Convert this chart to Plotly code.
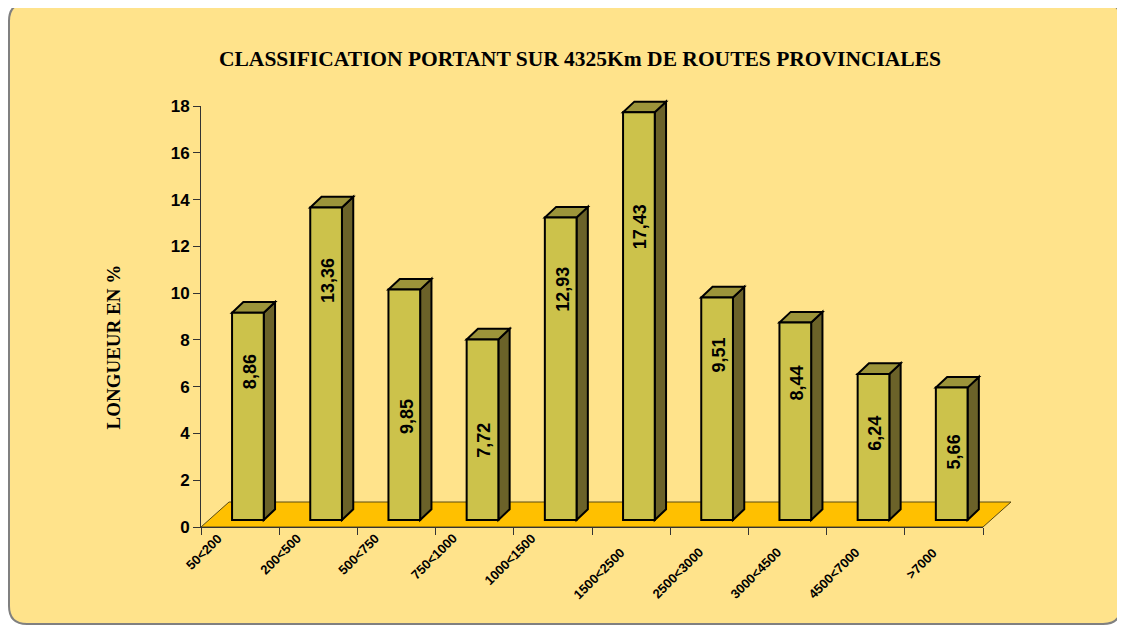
import plotly.graph_objects as go

# ---------------- data ----------------
categories = ["50<200", "200<500", "500<750", "750<1000", "1000<1500",
              "1500<2500", "2500<3000", "3000<4500", "4500<7000", ">7000"]
values = [8.86, 13.36, 9.85, 7.72, 12.93, 17.43, 9.51, 8.44, 6.24, 5.66]
value_labels = ["8,86", "13,36", "9,85", "7,72", "12,93",
                "17,43", "9,51", "8,44", "6,24", "5,66"]
# height (axis units) of the centre of each rotated value label
label_heights = [6.66, 10.52, 4.72, 3.71, 10.17, 12.85, 7.34, 6.15, 4.01, 3.22]
y_ticks = [0, 2, 4, 6, 8, 10, 12, 14, 16, 18]
# category labels are drawn in two staggered rows (0 = upper, 1 = lower)
cat_label_row = [0, 0, 0, 0, 0, 1, 1, 1, 1, 1]

title_text = "CLASSIFICATION PORTANT SUR 4325Km DE ROUTES PROVINCIALES"
ytitle_text = "LONGUEUR EN %"

# ---------------- layout geometry (pixels, in page coordinates) ----------------
PAGE_OFF = 8                      # default body margin of the html page
W, H = 1125 - PAGE_OFF, 627 - PAGE_OFF
ML, MT = 201 - PAGE_OFF, 106 - PAGE_OFF
MR, MB = 1125 - 983, 627 - 527
PW = W - ML - MR
PH = H - MT - MB
n = len(categories)
YMAX = max(y_ticks)
ux = PW / n        # px per category
uy = PH / YMAX     # px per value unit

# 3-D look offsets in pixels
FLOOR_DX, FLOOR_DY = 28, 25
BAR_OFF_DX, BAR_OFF_DY = 7.8, 7
BAR_D_DX, BAR_D_DY = 11.3, 10.7
BAR_W = 31.7

# colours
BG = "#FFE38B"
FRONT = "#CCC24B"
SIDE = "#6B6229"
TOP = "#9C943A"
FLOOR = "#FFC000"


def px_x(px):  # page pixel x -> paper
    return (px - PAGE_OFF - ML) / PW


def px_y(py):  # page pixel y (from top) -> paper
    return (H - MB - (py - PAGE_OFF)) / PH


def dx2p(xv):  # data x -> paper
    return xv / n


def dy2p(yv):  # data y -> paper
    return yv / YMAX


def path(points):
    return "M " + " L ".join(f"{x:.5f},{y:.5f}" for x, y in points) + " Z"


shapes = []

# rounded background panel
x0, x1, y0, y1, r = 9, 1121, 3, 624, 18
bg_path = (
    f"M {px_x(x0 + r)},{px_y(y0)} L {px_x(x1 - r)},{px_y(y0)} "
    f"Q {px_x(x1)},{px_y(y0)} {px_x(x1)},{px_y(y0 + r)} "
    f"L {px_x(x1)},{px_y(y1 - r)} Q {px_x(x1)},{px_y(y1)} {px_x(x1 - r)},{px_y(y1)} "
    f"L {px_x(x0 + r)},{px_y(y1)} Q {px_x(x0)},{px_y(y1)} {px_x(x0)},{px_y(y1 - r)} "
    f"L {px_x(x0)},{px_y(y0 + r)} Q {px_x(x0)},{px_y(y0)} {px_x(x0 + r)},{px_y(y0)} Z"
)
shapes.append(dict(type="path", xref="paper", yref="paper", path=bg_path,
                   fillcolor=BG, line=dict(color="#808080", width=2), layer="below"))

# floor
fdx, fdy = FLOOR_DX / ux, FLOOR_DY / uy
floor_pts = [(dx2p(0), dy2p(0)), (dx2p(n), dy2p(0)),
             (dx2p(n + fdx), dy2p(fdy)), (dx2p(fdx), dy2p(fdy))]
shapes.append(dict(type="path", xref="paper", yref="paper", path=path(floor_pts),
                   fillcolor=FLOOR, line=dict(color="#5A4A10", width=1), layer="below"))

# bars
odx, ody = BAR_OFF_DX / ux, BAR_OFF_DY / uy
bdx, bdy = BAR_D_DX / ux, BAR_D_DY / uy
hw = BAR_W / ux / 2
bar_centres = []
for i, v in enumerate(values):
    cx = i + 0.5 + odx
    bar_centres.append(cx)
    xl, xr = cx - hw, cx + hw
    yb, yt = ody, ody + v
    side = [(xr, yb), (xr + bdx, yb + bdy), (xr + bdx, yt + bdy), (xr, yt)]
    top = [(xl, yt), (xr, yt), (xr + bdx, yt + bdy), (xl + bdx, yt + bdy)]
    front = [(xl, yb), (xr, yb), (xr, yt), (xl, yt)]
    for pts, col in ((side, SIDE), (top, TOP), (front, FRONT)):
        shapes.append(dict(type="path", xref="paper", yref="paper",
                           path=path([(dx2p(a), dy2p(b)) for a, b in pts]),
                           fillcolor=col, line=dict(color="black", width=2),
                           layer="above"))

annotations = []
for cx, lab, hgt in zip(bar_centres, value_labels, label_heights):
    annotations.append(dict(x=cx + 2 / ux, y=hgt, xref="x", yref="y", text=lab,
                            textangle=-90, showarrow=False,
                            font=dict(family="Liberation Sans, Arial", size=18,
                                      color="black", weight="bold")))

# category labels, rotated 45 degrees, top-right corner anchored under each category
ROW_DX = [-12, -1]
ROW_DY = [0, -14]
for i, (cat, row) in enumerate(zip(categories, cat_label_row)):
    annotations.append(dict(x=i + 0.5, y=px_y(528), xref="x", yref="paper",
                            text=cat, textangle=-45, showarrow=False,
                            xanchor="right", yanchor="top",
                            xshift=ROW_DX[row], yshift=ROW_DY[row],
                            font=dict(family="Liberation Sans, Arial", size=13,
                                      color="black", weight="bold")))

annotations.append(dict(x=px_x(579.5), y=px_y(45), xref="paper", yref="paper",
                        text=f"<b>{title_text}</b>", showarrow=False,
                        font=dict(family="Liberation Serif, Times New Roman", size=21.5,
                                  color="black")))
annotations.append(dict(x=px_x(100), y=px_y(347), xref="paper", yref="paper",
                        text=f"<b>{ytitle_text}</b>", showarrow=False, textangle=-90,
                        font=dict(family="Liberation Serif, Times New Roman", size=19,
                                  color="black")))

fig = go.Figure()
# invisible trace to establish axes
fig.add_trace(go.Scatter(x=[0, n], y=[0, YMAX], mode="markers",
                         marker=dict(opacity=0), hoverinfo="skip", showlegend=False))

fig.update_layout(
    width=W, height=H,
    margin=dict(l=ML, r=MR, t=MT, b=MB, pad=0),
    paper_bgcolor="white",
    plot_bgcolor="rgba(0,0,0,0)",
    shapes=shapes,
    annotations=annotations,
    showlegend=False,
    xaxis=dict(
        range=[0, n], showgrid=False, zeroline=False,
        showline=True, linecolor="#333333", linewidth=1,
        tickmode="array", tickvals=list(range(n + 1)),
        ticks="outside", ticklen=7, tickcolor="#333333", tickwidth=1,
        showticklabels=False,
        fixedrange=True,
    ),
    yaxis=dict(
        range=[0, YMAX], showgrid=False, zeroline=False,
        showline=True, linecolor="#333333", linewidth=1,
        tickmode="array", tickvals=y_ticks, ticktext=[str(t) for t in y_ticks],
        ticks="outside", ticklen=7, tickcolor="#333333",
        tickfont=dict(family="Liberation Sans, Arial", size=17, color="black",
                      weight="bold"),
        fixedrange=True,
    ),
)

fig.write_html("out.html")
